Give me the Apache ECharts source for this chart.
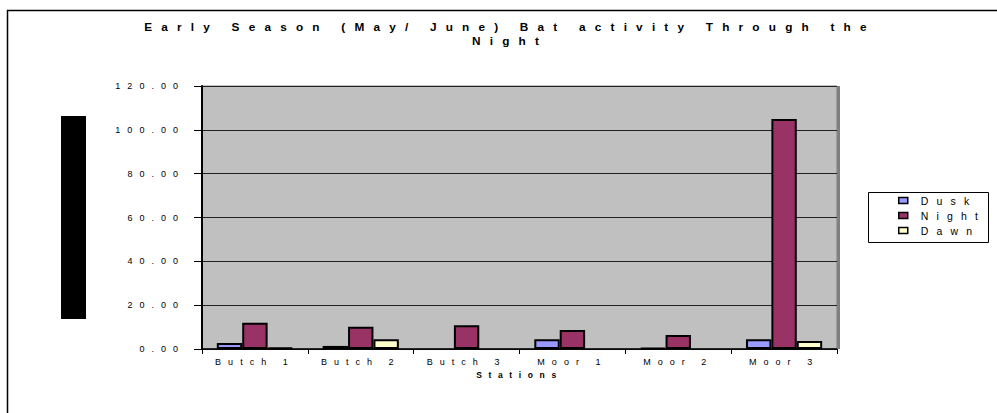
<!DOCTYPE html>
<html>
<head>
<meta charset="utf-8">
<script src="https://cdn.jsdelivr.net/npm/echarts@6/dist/echarts.min.js"></script>
<style>
  html, body { margin: 0; padding: 0; background: #fff; }
  #main { width: 997px; height: 413px; }
  /* the original text is drawn very widely spaced */
  #main text { letter-spacing: 0.78em; }
</style>
</head>
<body>
<div id="main"></div>
<script>
var stations = ['Butch 1', 'Butch 2', 'Butch 3', 'Moor 1', 'Moor 2', 'Moor 3'];
var dusk = [2.7, 1.4, 0, 4.4, 0.5, 4.4];
var night = [12.0, 10.2, 10.8, 8.7, 6.4, 105.0];
var dawn = [0.6, 4.5, 0, 0, 0, 3.7];

var chart = echarts.init(document.getElementById('main'), null, { renderer: 'svg' });

var font = 'Liberation Sans, Arial, sans-serif';

function barSeries(name, data, color) {
    return {
        name: name,
        type: 'bar',
        // excel draws nothing for an empty value
        data: data.map(function (v) { return v === 0 ? '-' : v; }),
        barGap: '0%',
        barCategoryGap: '28%',
        itemStyle: {
            color: color,
            borderColor: '#000',
            borderWidth: 2
        }
    };
}

var option = {
    animation: false,
    backgroundColor: '#fff',
    title: {
        text: 'Early Season (May/ June) Bat activity Through the\nNight',
        left: 505,
        top: 15,
        textAlign: 'center',
        textStyle: {
            fontFamily: font,
            fontSize: 11.8,
            fontWeight: 'bold',
            color: '#000',
            lineHeight: 14
        }
    },
    legend: {
        orient: 'vertical',
        left: 893,
        top: 190,
        itemWidth: 9,
        itemHeight: 6,
        itemGap: 4,
        icon: 'rect',
        itemStyle: { borderColor: '#000', borderWidth: 1.5 },
        textStyle: { fontFamily: font, fontSize: 10.5, color: '#000', padding: [0, 0, 0, 8] },
        data: ['Dusk', 'Night', 'Dawn']
    },
    grid: {
        left: 202,
        right: 160,
        top: 86,
        bottom: 64,
        show: true,
        backgroundColor: '#C0C0C0',
        borderColor: '#808080',
        borderWidth: 1
    },
    xAxis: {
        type: 'category',
        data: stations,
        name: 'Stations',
        nameLocation: 'middle',
        nameGap: 19,
        nameTextStyle: { fontFamily: font, fontSize: 8.5, fontWeight: 'bold', color: '#000' },
        axisLine: { lineStyle: { color: '#000', width: 1.5 } },
        axisTick: { show: true, length: 5, lineStyle: { color: '#000' } },
        axisLabel: { fontFamily: font, fontSize: 9, color: '#000', margin: 8 }
    },
    yAxis: {
        type: 'value',
        min: 0,
        max: 120,
        interval: 20,
        axisLine: { show: true, lineStyle: { color: '#000', width: 2 } },
        axisTick: { show: true, length: 8, lineStyle: { color: '#000' } },
        axisLabel: {
            fontFamily: font, fontSize: 9, color: '#000', margin: 17,
            formatter: function (v) { return v.toFixed(2); }
        },
        splitLine: { lineStyle: { color: '#222', width: 1 } }
    },
    graphic: [
        // outer chart frame
        { type: 'rect', shape: { x: 7.5, y: 10.5, width: 1000, height: 420 },
          style: { fill: 'none', stroke: '#000', lineWidth: 1.5 }, z: 0 },
        // 3d side of plot wall
        { type: 'rect', shape: { x: 837, y: 86, width: 3, height: 263 },
          style: { fill: '#808080' }, z: 1 },
        // legend frame
        { type: 'rect', shape: { x: 868.5, y: 192.5, width: 120, height: 50 },
          style: { fill: '#fff', stroke: '#000', lineWidth: 1 }, z: 0 },
        // axis-title block
        { type: 'rect', shape: { x: 61, y: 116, width: 25, height: 203 },
          style: { fill: '#000' }, z: 1 }
    ],
    series: [
        barSeries('Dusk', dusk, '#9999FF'),
        barSeries('Night', night, '#993366'),
        barSeries('Dawn', dawn, '#FFFFCC')
    ]
};

chart.setOption(option);
</script>
</body>
</html>
